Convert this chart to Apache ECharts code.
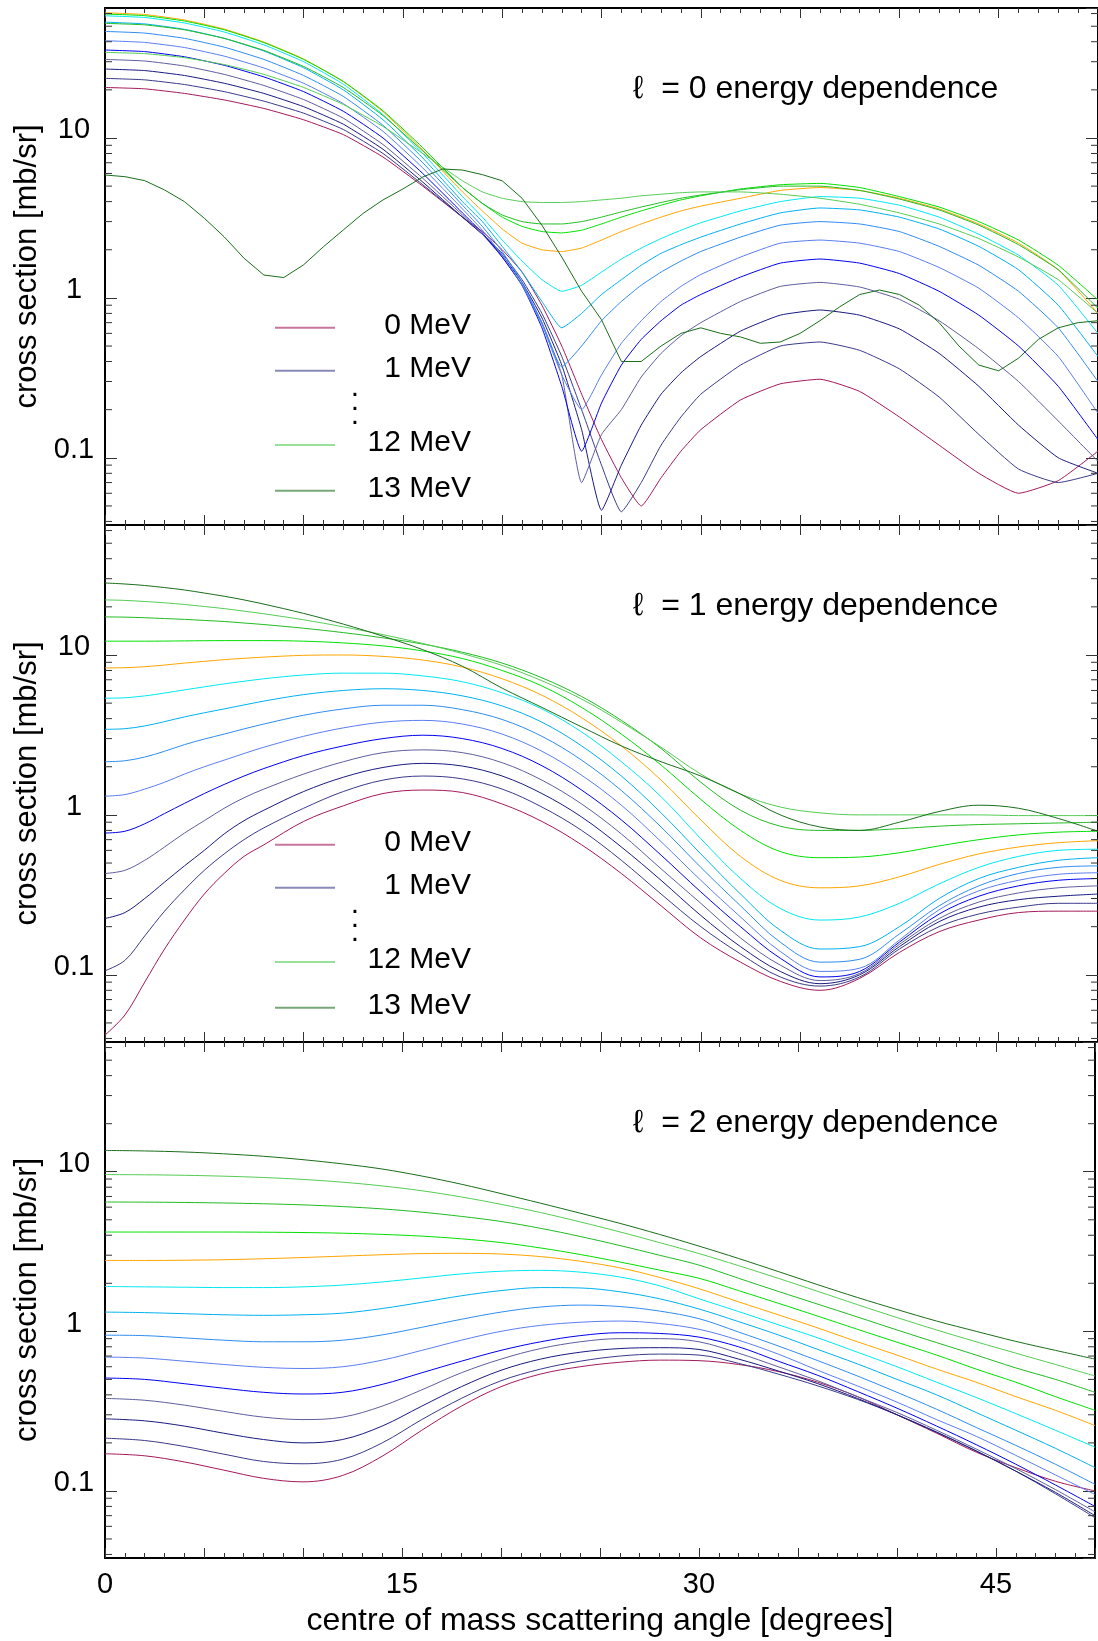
<!DOCTYPE html>
<html><head><meta charset="utf-8">
<script src="https://cdn.jsdelivr.net/npm/echarts@6/dist/echarts.min.js"></script>
<style>html,body{margin:0;padding:0;background:#fff}#c{width:1098px;height:1641px}</style>
</head><body><div id="c"></div>
<script>
const energies = [0,1,2,3,4,5,6,7,8,9,10,11,12,13];
const colors = ['#a3195b','#3a3a8a','#1a1a80','#5e5e9e','#0000f0','#5a7ef0','#2f8cf0','#00b0f0','#00e8f0','#ffa500','#00e000','#22bb22','#55cc55','#1a6e1a'];
const xTickLabels = ['0','15','30','45'];
const yTickLabels = ['0.1','1','10'];
const panelTitles = ['\u2113  = 0 energy dependence','\u2113  = 1 energy dependence','\u2113  = 2 energy dependence'];

// l = 0 panel
const anglesL0 = [0,2,4,6,8,10,12,14,16,18,19,20,21,22,23,24,25,26,27,28,29,30,32,34,36,38,40,42,44,46,48,50];
const anglesL0E13 = [0,1,2,3,4,5,6,7,8,9,10,11,12,13,14,15,16,17,18,19,20,21,22,23,24,25,26,27,28,29,30,31,32,33,34,35,36,37,38,39,40,41,42,43,44,45,46,47,48,49,50];
const l0E0 = [20.7,20.3,19.0,17.3,15.3,13.0,10.5,7.6,5.0,3.2,2.6,2.0,1.45,0.9,0.5,0.25,0.13,0.075,0.05,0.075,0.11,0.15,0.23,0.29,0.31,0.26,0.18,0.12,0.08,0.06,0.072,0.11];
const l0E1 = [23.6,23.1,21.6,19.5,17.0,14.3,11.3,8.0,5.1,3.2,2.5,1.9,1.3,0.8,0.43,0.2,0.09,0.046,0.07,0.12,0.18,0.25,0.38,0.5,0.53,0.47,0.36,0.24,0.14,0.085,0.07,0.08];
const l0E2 = [27.0,26.4,24.6,22.0,19.0,15.7,12.2,8.5,5.3,3.2,2.5,1.85,1.25,0.75,0.38,0.15,0.047,0.09,0.16,0.25,0.34,0.43,0.62,0.78,0.84,0.78,0.64,0.45,0.28,0.16,0.1,0.08];
const l0E3 = [31.0,30.3,28.2,25.0,21.3,17.4,13.3,9.1,5.6,3.3,2.5,1.8,1.2,0.7,0.33,0.07,0.14,0.2,0.32,0.45,0.58,0.7,0.95,1.18,1.25,1.17,0.98,0.72,0.48,0.3,0.17,0.095];
const l0E4 = [35.5,34.7,32.2,28.5,24.1,19.5,14.7,10.0,6.0,3.4,2.55,1.8,1.2,0.65,0.28,0.11,0.22,0.38,0.55,0.72,0.9,1.05,1.35,1.65,1.75,1.65,1.42,1.1,0.78,0.5,0.28,0.13];
const l0E5 = [40.6,39.6,36.8,32.5,27.4,22.0,16.4,11.0,6.5,3.6,2.65,1.85,1.2,0.68,0.33,0.2,0.33,0.52,0.72,0.95,1.18,1.4,1.8,2.2,2.3,2.2,1.95,1.55,1.15,0.75,0.43,0.19];
const l0E6 = [46.4,45.3,42.0,37.0,31.0,24.6,18.2,12.0,7.0,3.8,2.8,1.95,1.25,0.7,0.37,0.5,0.72,0.95,1.2,1.45,1.7,1.95,2.4,2.85,3.0,2.9,2.6,2.1,1.6,1.1,0.65,0.3];
const l0E7 = [53.0,51.7,47.8,42.0,35.0,27.5,20.0,13.0,7.5,4.0,3.0,2.1,1.45,0.95,0.65,0.8,1.05,1.3,1.6,1.9,2.15,2.4,2.9,3.4,3.65,3.55,3.2,2.7,2.1,1.5,0.9,0.43];
const l0E8 = [58.1,56.7,52.4,46.0,38.2,30.0,21.7,14.0,8.0,4.3,3.2,2.3,1.7,1.3,1.1,1.2,1.45,1.75,2.05,2.35,2.65,2.95,3.5,4.0,4.3,4.2,3.8,3.2,2.5,1.85,1.2,0.6];
const l0E9 = [60.7,59.2,54.7,48.0,39.8,31.2,22.5,14.6,8.4,4.6,3.5,2.7,2.2,2.0,1.95,2.05,2.3,2.6,2.9,3.2,3.5,3.75,4.2,4.7,4.9,4.7,4.2,3.6,2.9,2.2,1.5,0.8];
const l0E10 = [59.6,58.2,53.9,47.5,39.5,31.0,22.6,14.8,8.7,4.9,3.9,3.2,2.8,2.6,2.55,2.65,2.9,3.2,3.5,3.8,4.1,4.35,4.8,5.1,5.2,4.9,4.3,3.7,3.0,2.3,1.6,0.97];
const l0E11 = [52.1,51.0,47.5,42.0,35.3,28.0,20.7,13.8,8.3,4.9,3.9,3.3,3.0,2.9,2.9,3.0,3.2,3.45,3.7,3.95,4.2,4.4,4.75,5.0,5.0,4.7,4.15,3.55,2.85,2.15,1.5,0.86];
const l0E12 = [34.3,33.7,31.8,28.8,25.0,20.7,16.2,11.8,8.0,5.4,4.6,4.2,4.0,3.95,3.95,4.0,4.1,4.2,4.35,4.45,4.55,4.6,4.6,4.45,4.2,3.85,3.4,2.9,2.35,1.8,1.3,0.8];
const l0E13 = [5.87,5.73,5.41,4.73,4.0,3.15,2.41,1.77,1.39,1.34,1.61,2.09,2.66,3.38,4.1,4.8,5.7,6.4,6.3,5.9,5.4,4.2,2.85,1.8,1.1,0.73,0.4,0.4,0.5,0.6,0.65,0.6,0.57,0.52,0.53,0.6,0.72,0.88,1.05,1.12,1.05,0.9,0.7,0.5,0.38,0.35,0.42,0.55,0.65,0.7,0.72];

// l = 1 panel
const anglesL1 = [0,1,2,3,4,5,6,7,8,10,12,14,16,18,20,22,24,26,28,30,32,34,36,38,40,42,44,46,48,50];
const l1E0 = [0.042,0.056,0.09,0.145,0.22,0.32,0.43,0.55,0.65,0.91,1.14,1.36,1.43,1.38,1.17,0.91,0.65,0.43,0.27,0.17,0.12,0.091,0.08,0.095,0.138,0.186,0.22,0.245,0.25,0.25];
const l1E1 = [0.106,0.123,0.175,0.25,0.34,0.45,0.57,0.7,0.83,1.1,1.4,1.65,1.75,1.68,1.45,1.12,0.8,0.52,0.32,0.2,0.135,0.097,0.085,0.097,0.145,0.2,0.24,0.265,0.28,0.28];
const l1E2 = [0.225,0.245,0.3,0.38,0.48,0.6,0.76,0.92,1.07,1.4,1.72,1.98,2.1,2.02,1.75,1.36,0.97,0.63,0.39,0.235,0.15,0.105,0.088,0.1,0.15,0.215,0.265,0.295,0.31,0.32];
const l1E3 = [0.43,0.45,0.52,0.63,0.77,0.92,1.1,1.28,1.45,1.8,2.15,2.45,2.55,2.45,2.12,1.65,1.17,0.76,0.46,0.28,0.17,0.115,0.092,0.102,0.155,0.225,0.285,0.325,0.35,0.36];
const l1E4 = [0.77,0.79,0.88,1.02,1.18,1.36,1.55,1.75,1.95,2.35,2.7,3.0,3.15,3.0,2.6,2.03,1.43,0.93,0.56,0.33,0.2,0.127,0.097,0.105,0.16,0.24,0.31,0.36,0.39,0.40];
const l1E5 = [1.31,1.34,1.45,1.6,1.8,2.0,2.2,2.42,2.65,3.1,3.5,3.8,3.9,3.7,3.2,2.5,1.77,1.15,0.68,0.39,0.23,0.14,0.105,0.11,0.165,0.255,0.335,0.39,0.425,0.435];
const l1E6 = [2.15,2.18,2.3,2.5,2.75,2.98,3.2,3.45,3.7,4.2,4.6,4.85,4.85,4.55,3.95,3.1,2.2,1.42,0.84,0.47,0.27,0.16,0.12,0.125,0.18,0.27,0.36,0.43,0.47,0.48];
const l1E7 = [3.43,3.46,3.6,3.83,4.1,4.35,4.6,4.87,5.15,5.65,6.0,6.15,6.0,5.55,4.8,3.8,2.7,1.75,1.03,0.57,0.32,0.19,0.145,0.15,0.2,0.3,0.4,0.47,0.52,0.54];
const l1E8 = [5.37,5.4,5.55,5.78,6.05,6.32,6.6,6.85,7.1,7.5,7.7,7.7,7.4,6.8,5.8,4.6,3.3,2.15,1.3,0.71,0.4,0.26,0.22,0.23,0.28,0.37,0.47,0.55,0.6,0.61];
const l1E9 = [8.3,8.33,8.45,8.65,8.9,9.12,9.35,9.53,9.7,9.95,10.0,9.8,9.3,8.4,7.1,5.6,4.05,2.7,1.65,0.93,0.55,0.39,0.35,0.36,0.41,0.49,0.57,0.63,0.67,0.69];
const l1E10 = [12.2,12.2,12.2,12.22,12.25,12.28,12.3,12.3,12.3,12.2,11.9,11.4,10.6,9.5,8.0,6.4,4.7,3.2,2.05,1.25,0.8,0.59,0.54,0.545,0.58,0.64,0.7,0.75,0.78,0.79];
const l1E11 = [17.3,17.25,17.1,16.9,16.7,16.45,16.2,15.85,15.5,14.7,13.8,12.8,11.7,10.4,8.9,7.2,5.5,3.9,2.6,1.6,1.07,0.85,0.8,0.8,0.82,0.85,0.87,0.88,0.89,0.9];
const l1E12 = [22.1,21.95,21.6,21.2,20.7,20.1,19.5,18.8,18.1,16.6,15.0,13.4,11.8,10.2,8.6,6.9,5.3,3.8,2.65,1.8,1.35,1.12,1.03,1.0,1.0,1.0,1.0,0.99,0.99,0.99];
const l1E13 = [28.2,27.8,27.2,26.4,25.5,24.4,23.3,22.1,20.8,18.2,15.6,13.1,10.8,8.5,6.2,4.7,3.55,2.7,2.15,1.75,1.35,1.0,0.84,0.8,0.9,1.05,1.15,1.1,0.95,0.79];

// l = 2 panel
const anglesL2 = [0,2,4,6,8,10,12,14,16,18,20,22,24,26,28,30,32,34,36,38,40,42,44,46,48,50];
const l2E0 = [0.171,0.166,0.152,0.135,0.12,0.114,0.125,0.165,0.24,0.34,0.45,0.54,0.6,0.64,0.66,0.655,0.62,0.56,0.48,0.39,0.3,0.23,0.175,0.14,0.115,0.1];
const l2E1 = [0.214,0.207,0.19,0.17,0.153,0.148,0.158,0.2,0.28,0.38,0.49,0.58,0.65,0.7,0.72,0.71,0.63,0.54,0.455,0.375,0.3,0.234,0.178,0.133,0.096,0.068];
const l2E2 = [0.283,0.275,0.255,0.23,0.21,0.2,0.21,0.255,0.34,0.45,0.57,0.67,0.74,0.78,0.79,0.77,0.67,0.565,0.47,0.38,0.3,0.233,0.178,0.133,0.098,0.07];
const l2E3 = [0.38,0.37,0.345,0.315,0.29,0.28,0.29,0.34,0.43,0.55,0.67,0.78,0.86,0.9,0.9,0.86,0.73,0.6,0.49,0.39,0.31,0.24,0.183,0.138,0.102,0.074];
const l2E4 = [0.51,0.5,0.47,0.44,0.415,0.405,0.415,0.465,0.55,0.65,0.76,0.86,0.94,0.98,0.97,0.92,0.8,0.65,0.53,0.42,0.33,0.255,0.195,0.147,0.109,0.08];
const l2E5 = [0.69,0.68,0.65,0.62,0.595,0.585,0.6,0.66,0.76,0.88,1.0,1.09,1.14,1.16,1.12,1.03,0.88,0.72,0.57,0.455,0.36,0.28,0.22,0.167,0.126,0.095];
const l2E6 = [0.946,0.94,0.91,0.88,0.86,0.86,0.88,0.95,1.06,1.19,1.32,1.42,1.46,1.43,1.34,1.2,0.99,0.81,0.655,0.525,0.415,0.325,0.25,0.193,0.147,0.11];
const l2E7 = [1.32,1.31,1.29,1.27,1.26,1.27,1.3,1.39,1.52,1.67,1.8,1.88,1.87,1.77,1.6,1.38,1.15,0.95,0.77,0.625,0.5,0.4,0.31,0.24,0.185,0.14];
const l2E8 = [1.91,1.9,1.89,1.88,1.88,1.9,1.95,2.04,2.16,2.29,2.38,2.41,2.35,2.19,1.93,1.6,1.33,1.1,0.91,0.74,0.6,0.48,0.385,0.305,0.24,0.188];
const l2E9 = [2.78,2.78,2.79,2.81,2.85,2.9,2.96,3.02,3.07,3.08,3.05,2.94,2.75,2.5,2.18,1.85,1.53,1.27,1.05,0.86,0.71,0.58,0.48,0.39,0.32,0.257];
const l2E10 = [4.19,4.19,4.19,4.19,4.18,4.16,4.12,4.05,3.95,3.8,3.6,3.33,3.03,2.72,2.42,2.15,1.8,1.5,1.245,1.03,0.855,0.71,0.58,0.48,0.39,0.32];
const l2E11 = [6.46,6.45,6.42,6.37,6.3,6.2,6.05,5.85,5.58,5.25,4.88,4.42,3.93,3.45,3.0,2.6,2.15,1.78,1.48,1.23,1.02,0.85,0.71,0.59,0.5,0.415];
const l2E12 = [9.6,9.57,9.5,9.38,9.2,8.95,8.6,8.15,7.6,6.95,6.25,5.55,4.85,4.2,3.6,3.07,2.58,2.15,1.78,1.47,1.22,1.02,0.86,0.73,0.62,0.525];
const l2E13 = [13.6,13.5,13.3,12.95,12.5,11.9,11.2,10.4,9.4,8.35,7.3,6.35,5.5,4.75,4.05,3.42,2.86,2.37,1.96,1.63,1.37,1.16,1.0,0.865,0.76,0.67];

const panelAngles = [null, anglesL1, anglesL2];
const panelCurves = [
  [l0E0,l0E1,l0E2,l0E3,l0E4,l0E5,l0E6,l0E7,l0E8,l0E9,l0E10,l0E11,l0E12,l0E13],
  [l1E0,l1E1,l1E2,l1E3,l1E4,l1E5,l1E6,l1E7,l1E8,l1E9,l1E10,l1E11,l1E12,l1E13],
  [l2E0,l2E1,l2E2,l2E3,l2E4,l2E5,l2E6,l2E7,l2E8,l2E9,l2E10,l2E11,l2E12,l2E13]
];
const legendEnergies = [0,1,12,13];

const FONT = "'Liberation Sans', Arial, Helvetica, sans-serif";
const X_MIN = 0, X_MAX = 50, Y_MIN = 0.038, Y_MAX = 65;
const gridTops = [8, 525, 1042];
const gridHeights = [517, 517, 516];

const chart = echarts.init(document.getElementById('c'), null, {renderer: 'canvas'});

const grids = [], xAxes = [], yAxes = [], series = [], titles = [], graphics = [];
const minorVals = [];
for (let e = -2; e <= 1; e++) for (let m = 2; m <= 9; m++) {
  const v = +(m * Math.pow(10, e)).toPrecision(6);
  if (v >= Y_MIN && v <= Y_MAX) minorVals.push(v);
}

function xAxisCfg(gi, pos, showLabels) {
  return {
    type: 'value', gridIndex: gi, position: pos, min: X_MIN, max: X_MAX, interval: 5,
    axisLine: {show: true, onZero: false, lineStyle: {color: '#000', width: 2}},
    axisTick: {show: true, inside: true, length: 10, lineStyle: {color: '#333', width: 1}},
    minorTick: {show: true, splitNumber: 5, length: 5, lineStyle: {color: '#333', width: 1}},
    splitLine: {show: false}, minorSplitLine: {show: false},
    axisLabel: {show: showLabels, margin: 12, fontSize: 29, color: '#000', fontFamily: FONT,
      formatter: v => (v % 15 === 0 ? xTickLabels[v / 15] : '')},
    name: showLabels ? 'centre of mass scattering angle [degrees]' : '',
    nameLocation: 'middle', nameGap: 47,
    nameTextStyle: {fontSize: 32, color: '#000', fontFamily: FONT}
  };
}
function yAxisCfg(gi, pos, showLabels) {
  return {
    type: 'log', logBase: 10, gridIndex: gi, position: pos, min: Y_MIN, max: Y_MAX,
    axisLine: {show: true, onZero: false, lineStyle: {color: '#000', width: 2}},
    axisTick: {show: true, inside: true, length: 12, lineStyle: {color: '#333', width: 1}},
    splitLine: {show: false},
    axisLabel: {show: showLabels, showMinLabel: false, showMaxLabel: false, align: 'center', margin: 31,
      verticalAlign: 'bottom', lineHeight: 15, fontSize: 29, color: '#000', fontFamily: FONT,
      formatter: v => {
        const l = Math.log10(v);
        const r = Math.round(l);
        if (Math.abs(l - r) < 1e-6 && r >= -1 && r <= 1) return yTickLabels[r + 1];
        return '';
      }},
    name: showLabels ? 'cross section [mb/sr]' : '',
    nameLocation: 'middle', nameGap: 60,
    nameTextStyle: {fontSize: 31, color: '#000', fontFamily: FONT}
  };
}

for (let p = 0; p < 3; p++) {
  grids.push({left: 105, width: 1000, top: gridTops[p], height: gridHeights[p], show: false});
  const xb = xAxes.length;
  xAxes.push(xAxisCfg(p, 'bottom', p === 2));
  xAxes.push(xAxisCfg(p, 'top', false));
  const yl = yAxes.length;
  yAxes.push(yAxisCfg(p, 'left', true));
  yAxes.push(yAxisCfg(p, 'right', false));

  panelCurves[p].forEach((vals, e) => {
    const ang = p === 0 ? (e === 13 ? anglesL0E13 : anglesL0) : panelAngles[p];
    series.push({
      type: 'line', name: energies[e] + ' MeV', xAxisIndex: xb, yAxisIndex: yl,
      data: ang.map((a, i) => [a, vals[i]]),
      showSymbol: false, symbol: 'none',
      smooth: p === 0 ? (e === 13 ? false : 0.15) : 0.35,
      lineStyle: {color: colors[e], width: 1}, itemStyle: {color: colors[e]},
      z: 3, silent: true, animation: false
    });
  });

  // minor log ticks on left and right y axes
  series.push({
    type: 'custom', xAxisIndex: xb, yAxisIndex: yl, silent: true, animation: false, clip: false, z: 6,
    data: minorVals.map(v => [X_MIN, v]),
    renderItem: (params, api) => {
      const v = api.value(1);
      const pl = api.coord([X_MIN, v]);
      const pr = api.coord([X_MAX, v]);
      return {type: 'group', children: [
        {type: 'line', shape: {x1: pl[0], y1: pl[1], x2: pl[0] + 7, y2: pl[1]}, style: {stroke: '#333', lineWidth: 1}},
        {type: 'line', shape: {x1: pr[0] - 7, y1: pr[1], x2: pr[0], y2: pr[1]}, style: {stroke: '#333', lineWidth: 1}}
      ]};
    }
  });

  titles.push({text: panelTitles[p], left: 628, top: gridTops[p] + 60,
    textStyle: {fontSize: 32, fontWeight: 'normal', color: '#000', fontFamily: FONT}});

  if (p < 2) {
    const off = gridTops[p] - 8;
    const rows = [327.7, 370.7, 445, 490.7];
    legendEnergies.forEach((e, k) => {
      const y = rows[k] + off;
      graphics.push({type: 'line', shape: {x1: 275, y1: y, x2: 335, y2: y},
        style: {stroke: colors[e], lineWidth: 2, opacity: 0.6}});
      graphics.push({type: 'text', x: 471, y: y - 2,
        style: {text: energies[e] + ' MeV', fontSize: 30, fill: '#000', fontFamily: FONT,
          textAlign: 'right', textVerticalAlign: 'middle'}});
    });
    graphics.push({type: 'text', x: 355, y: 402 + off,
      style: {text: '.\n.\n.', fontSize: 30, lineHeight: 14, fill: '#000', fontFamily: FONT,
        textAlign: 'center', textVerticalAlign: 'middle'}});
  }
}

chart.setOption({
  animation: false,
  backgroundColor: '#fff',
  title: titles,
  grid: grids,
  xAxis: xAxes,
  yAxis: yAxes,
  series: series,
  graphic: graphics
});
</script>
</body></html>
